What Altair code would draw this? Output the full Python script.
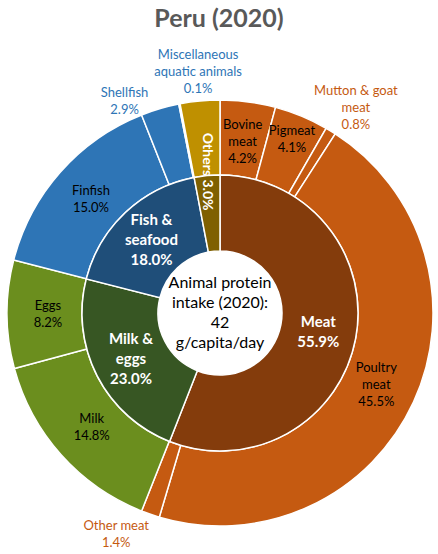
import math
import altair as alt
import pandas as pd

# ---- data ----
inner_groups = ["Meat", "Milk & eggs", "Fish & seafood", "Others"]
inner_labels = ["Meat", "Milk &\neggs", "Fish &\nseafood", "Others"]
inner_values = [55.9, 23.0, 18.0, 3.0]
inner_colors = ["#843C0C", "#375623", "#1F4E79", "#7F6000"]

outer_names = ["Bovine meat", "Pigmeat", "Mutton & goat meat", "Poultry meat", "Other meat",
               "Milk", "Eggs", "Finfish", "Shellfish", "Miscellaneous aquatic animals", "Others"]
outer_labels = ["Bovine\nmeat", "Pigmeat", "Mutton & goat\nmeat", "Poultry\nmeat", "Other meat",
                "Milk", "Eggs", "Finfish", "Shellfish", "Miscellaneous\naquatic animals", ""]
outer_groups = ["Meat", "Meat", "Meat", "Meat", "Meat",
                "Milk & eggs", "Milk & eggs", "Fish & seafood", "Fish & seafood", "Fish & seafood", "Others"]
outer_values = [4.2, 4.1, 0.8, 45.5, 1.4, 14.8, 8.2, 15.0, 2.9, 0.1, 3.0]
outer_colors = ["#C55A11", "#6B8E1E", "#2E75B6", "#BF9000"]

center_text = "Animal protein\nintake (2020):\n42\ng/capita/day"
title_text = "Peru (2020)"

FONT = "Lato"
CX, CY = 220, 273
R0, R1, R2 = 62, 138, 213


def ring(names, labels, groups, values):
    total = sum(values)
    cum = 0.0
    rows = []
    for n, l, g, v in zip(names, labels, groups, values):
        s = cum / total
        cum += v
        e = cum / total
        rows.append(dict(name=n, group=g, value=v, start=s, end=e, mid=(s + e) / 2,
                         label=(f"{l}\n{v:.1f}%" if l else "")))
    return pd.DataFrame(rows)


inner = ring(inner_groups, inner_labels, inner_groups, inner_values)
outer = ring(outer_names, outer_labels, outer_groups, outer_values)
inner["nlines"] = inner["label"].str.count("\n") + 1
outer["nlines"] = outer["label"].str.count("\n") + 1

theta_scale = alt.Scale(domain=[0, 1], range=[0, 2 * math.pi])
xv, yv = alt.value(CX), alt.value(CY)

outer_arcs = alt.Chart(outer).mark_arc(innerRadius=R1, outerRadius=R2, stroke="white", strokeWidth=1.5).encode(
    theta=alt.Theta("start:Q", scale=theta_scale, stack=False),
    theta2="end:Q",
    color=alt.Color("group:N", scale=alt.Scale(domain=inner_groups, range=outer_colors), legend=None),
    x=xv, y=yv,
)
inner_arcs = alt.Chart(inner).mark_arc(innerRadius=R0, outerRadius=R1, stroke="white", strokeWidth=1.5).encode(
    theta=alt.Theta("start:Q", scale=theta_scale, stack=False),
    theta2="end:Q",
    color=alt.Color("group:N", scale=alt.Scale(domain=inner_groups, range=inner_colors), legend=None),
    x=xv, y=yv,
)


def txt(df, radius, lh=17, dy=0, **kw):
    layers = []
    for n, sub in df.groupby("nlines"):
        base = dict(font=FONT, lineBreak="\n", align="center", baseline="middle", radius=radius,
                    lineHeight=lh, dy=dy - (n - 1) * lh / 2)
        base.update(kw)
        layers.append(alt.Chart(sub).mark_text(**base).encode(
            theta=alt.Theta("mid:Q", scale=theta_scale, stack=False),
            text="label:N", x=xv, y=yv,
        ))
    return layers


inner_txt = txt(inner[inner["name"] != "Others"], 100, lh=20, fontSize=15, fontWeight="bold", color="white")
others_df = inner[inner["name"] == "Others"].copy()
others_df["label"] = others_df["label"].str.replace("\n", " ")
others_df["nlines"] = 1
others_txt = txt(others_df, 142, fontSize=14, fontWeight="bold", color="white", angle=90)

inside_names = ["Bovine meat", "Poultry meat", "Milk", "Eggs", "Finfish"]
outer_in_txt = txt(outer[outer["name"].isin(inside_names)], 172, fontSize=13, color="black")
pig_txt = txt(outer[outer["name"] == "Pigmeat"], 188, fontSize=13, color="black")

outside_specs = [
    ("Mutton & goat meat", 246, 8, 5, "#C55A11"),
    ("Other meat", 244, -24, -9, "#C55A11"),
    ("Shellfish", 232, -30, 11, "#2E75B6"),
    ("Miscellaneous aquatic animals", 241, 24, -4, "#2E75B6"),
]
outside_layers = []
for n, r, ddx, ddy, c in outside_specs:
    outside_layers += txt(outer[outer["name"] == n], r, dx=ddx, dy=ddy, fontSize=13, color=c)

center = alt.Chart(pd.DataFrame({"t": [center_text]})).mark_text(
    font=FONT, fontSize=16, lineBreak="\n", lineHeight=20, color="black", align="center",
    baseline="middle", dy=-30
).encode(text="t:N", x=xv, y=yv)

chart = alt.layer(
    outer_arcs, inner_arcs, *inner_txt, *others_txt, *outer_in_txt, *pig_txt, *outside_layers, center
).resolve_scale(color="independent").properties(
    width=438, height=514,
    autosize=alt.AutoSizeParams(type="none"),
    padding={"top": 40, "left": 0, "right": 0, "bottom": 0},
    title=alt.TitleParams(title_text, font=FONT, fontSize=25, fontWeight="bold", color="#595959",
                          anchor="middle", offset=8),
).configure_view(stroke=None)

chart.save("out.html", embed_options={"renderer": "svg", "actions": False})
